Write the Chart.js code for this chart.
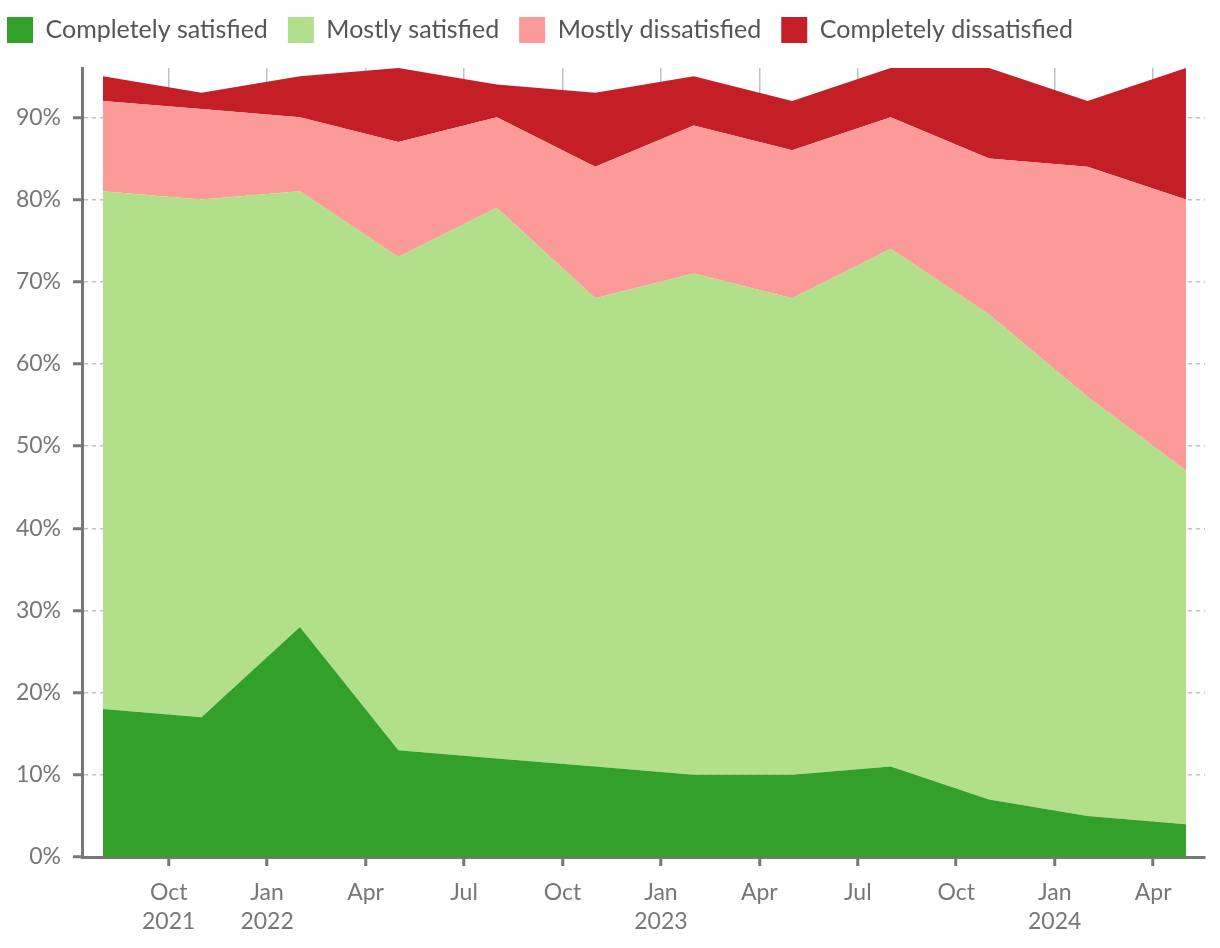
<!DOCTYPE html>
<html>
<head>
<meta charset="utf-8">
<script src="https://cdn.jsdelivr.net/npm/chart.js@4.4.1/dist/chart.umd.min.js"></script>
<style>
  html, body { margin: 0; padding: 0; background: #fff; }
  #wrap { width: 1220px; height: 948px; }
</style>
</head>
<body>
<div id="wrap"><canvas id="chart" width="1220" height="948"></canvas></div>
<script>
// survey months (month index: 2021-01 = 1)
const surveyMonths = [8, 11, 14, 17, 20, 23, 26, 29, 32, 35, 38, 41];

// share of respondents, %
const completelySatisfied    = [18, 17, 28, 13, 12, 11, 10, 10, 11, 7, 5, 4];
const mostlySatisfied        = [63, 63, 53, 60, 67, 57, 61, 58, 63, 59, 51, 43];
const mostlyDissatisfied     = [11, 11, 9, 14, 11, 16, 18, 18, 16, 19, 28, 33];
const completelyDissatisfied = [3, 2, 5, 9, 4, 9, 6, 6, 6, 11, 8, 16];

// x ticks
const tickMonths = [10, 13, 16, 19, 22, 25, 28, 31, 34, 37, 40];
const tickLabels = [
    ["Oct", "2021"], ["Jan", "2022"], "Apr", "Jul", "Oct",
    ["Jan", "2023"], "Apr", "Jul", "Oct", ["Jan", "2024"], "Apr"
];
const yTicks = [0, 10, 20, 30, 40, 50, 60, 70, 80, 90];

const seriesNames = ["Completely satisfied", "Mostly satisfied", "Mostly dissatisfied", "Completely dissatisfied"];
const seriesColors = ["#33a02c", "#b2df8a", "#fb9a99", "#c41f26"];

const FONT = "Lato";
const axisColor = "#777777";
const gridColor = "#b9c3ca";

const toPoints = (vals) => vals.map((v, i) => ({ x: surveyMonths[i], y: v }));

const datasets = [completelySatisfied, mostlySatisfied, mostlyDissatisfied, completelyDissatisfied]
    .map((vals, i) => ({
        label: seriesNames[i],
        data: toPoints(vals),
        backgroundColor: seriesColors[i],
        borderColor: seriesColors[i],
        borderWidth: 0,
        pointRadius: 0,
        tension: 0,
        fill: i === 0 ? "origin" : "-1",
    }));

// fixed legend height, and nudge the legend to the top-left corner
const legendTweak = {
    id: "legendTweak",
    beforeInit(chart) {
        const origFit = chart.legend.fit;
        chart.legend.fit = function () {
            origFit.call(this);
            this.height = 68;
        };
    },
    afterLayout(chart) {
        const lg = chart.legend;
        lg.left -= 13; lg.right -= 13;
        lg.top -= 3; lg.bottom -= 3;
    }
};

new Chart(document.getElementById("chart"), {
    type: "line",
    data: { datasets },
    plugins: [legendTweak],
    options: {
        responsive: false,
        animation: false,
        devicePixelRatio: 1,
        layout: { padding: { left: 0, right: 15, top: 0, bottom: 0 } },
        plugins: {
            legend: {
                position: "top",
                align: "start",
                labels: {
                    boxWidth: 26,
                    boxHeight: 26,
                    padding: 20,
                    color: "#555555",
                    font: { family: FONT, size: 25 },
                },
            },
            tooltip: { enabled: false },
        },
        scales: {
            x: {
                type: "linear",
                min: 7.36,
                max: 41.58,
                afterBuildTicks: (scale) => {
                    scale.ticks = tickMonths.map(v => ({ value: v }));
                },
                afterFit: (scale) => { scale.height = 91; },
                ticks: {
                    autoSkip: false,
                    maxRotation: 0,
                    padding: 12,
                    color: axisColor,
                    font: { family: FONT, size: 23, lineHeight: 1.25 },
                    callback: (v) => {
                        const i = tickMonths.indexOf(v);
                        return i >= 0 ? tickLabels[i] : "";
                    },
                },
                grid: {
                    color: gridColor,
                    lineWidth: 1.5,
                    tickLength: 9,
                    tickColor: axisColor,
                    tickWidth: 3,
                },
                border: { color: axisColor, width: 3 },
            },
            y: {
                stacked: true,
                min: 0,
                max: 96,
                afterBuildTicks: (scale) => {
                    scale.ticks = yTicks.map(v => ({ value: v }));
                },
                afterFit: (scale) => { scale.width = 82; },
                ticks: {
                    padding: 12,
                    color: axisColor,
                    font: { family: FONT, size: 23 },
                    callback: (v) => v + "%",
                },
                grid: {
                    color: gridColor,
                    lineWidth: 1.5,
                    tickLength: 9,
                    tickColor: axisColor,
                    tickWidth: 3,
                    tickBorderDash: [],
                },
                // in v4 border.dash is what dashes the grid lines
                border: { color: axisColor, width: 3, dash: [4, 4] },
            },
        },
    },
});
</script>
</body>
</html>
